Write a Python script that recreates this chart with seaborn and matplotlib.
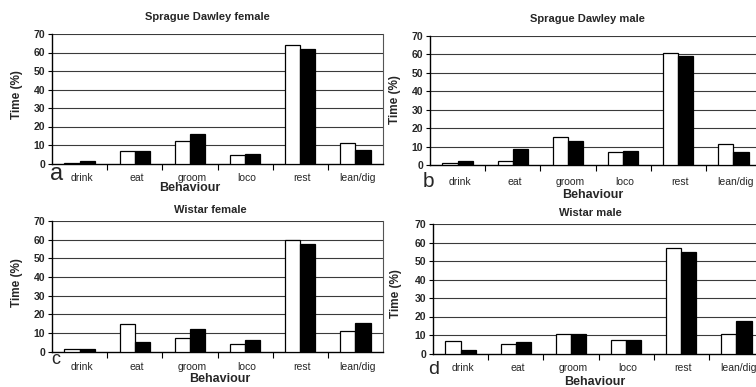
import matplotlib
matplotlib.use("Agg")
import matplotlib.pyplot as plt
import seaborn as sns
import pandas as pd
import numpy as np

behaviours = ["drink", "eat", "groom", "loco", "rest", "lean/dig"]
groups = ["white", "black"]

sd_female_white = [0.5, 6.5, 12.3, 4.4, 64.0, 11.0]
sd_female_black = [1.2, 6.5, 16.2, 5.4, 62.0, 7.2]
sd_male_white = [0.9, 2.2, 15.0, 6.9, 61.0, 11.4]
sd_male_black = [2.2, 8.7, 13.0, 7.4, 59.0, 7.2]
wi_female_white = [1.4, 14.5, 7.5, 4.1, 59.8, 11.1]
wi_female_black = [1.1, 5.2, 12.1, 6.4, 57.4, 15.4]
wi_male_white = [7.0, 5.4, 10.3, 7.2, 57.0, 10.8]
wi_male_black = [1.8, 6.0, 10.8, 7.4, 55.0, 17.5]

titles = ["Sprague Dawley female", "Sprague Dawley male", "Wistar female", "Wistar male"]
letters = ["a", "b", "c", "d"]
yticks = [0, 10, 20, 30, 40, 50, 60, 70]

sns.set_theme(style="white")
plt.rcParams["font.family"] = ["Liberation Sans", "DejaVu Sans"]

W, H = 756, 387
fig = plt.figure(figsize=(W / 100, H / 100), dpi=100)
fig.patch.set_facecolor("white")


def px_rect(left, right, top, bottom):
    return [left / W, 1 - bottom / H, (right - left) / W, (bottom - top) / H]


def ftext(x, y, s, va="center", **kw):
    fig.text(x / W, 1 - y / H, s, ha="center", va=va, **kw)


panels = [
    dict(white=sd_female_white, black=sd_female_black, rect=(52, 383, 34, 163.5),
         title=(207, 17), tick_y=178, xlab=(190, 188), ylab=(17, 95),
         letter=(56.5, 180), lsize=17),
    dict(white=sd_male_white, black=sd_male_black, rect=(430, 761, 36, 165),
         title=(587, 19), tick_y=182, xlab=(593, 195), ylab=(395, 100),
         letter=(428, 187), lsize=15),
    dict(white=wi_female_white, black=wi_female_black, rect=(52, 383, 221, 351.5),
         title=(210, 210), tick_y=367, xlab=(220, 379), ylab=(17, 283),
         letter=(55.5, 364.5), lsize=13),
    dict(white=wi_male_white, black=wi_male_black, rect=(433, 764, 224, 353.5),
         title=(590, 213), tick_y=368, xlab=(595, 382), ylab=(396, 294),
         letter=(433.5, 374), lsize=14),
]

for i, p in enumerate(panels):
    df = pd.DataFrame({
        "Behaviour": behaviours * 2,
        "Time": list(p["white"]) + list(p["black"]),
        "group": [groups[0]] * 6 + [groups[1]] * 6,
    })
    ax = fig.add_axes(px_rect(*p["rect"]))
    sns.barplot(data=df, x="Behaviour", y="Time", hue="group", order=behaviours,
                hue_order=groups, palette=["white", "black"], edgecolor="black",
                linewidth=0.9, width=0.55, legend=False, ax=ax, zorder=3)
    ax.set_xlim(-0.5, 5.5)
    ax.set_ylim(0, 70)
    ax.set_yticks(yticks)
    ax.set_yticklabels([str(t) for t in yticks], fontsize=7.5, fontweight="bold")
    for t in yticks[1:]:
        ax.axhline(t, color="#3a3a3a", lw=0.8, zorder=1)
    ax.set_xticks(range(6))
    ax.set_xticklabels([])
    ax.set_xticks(np.arange(0.5, 5.5, 1), minor=True)
    ax.tick_params(axis="x", which="major", length=0)
    ax.tick_params(axis="x", which="minor", length=4, width=0.8, color="black", direction="out", bottom=True)
    ax.tick_params(axis="y", length=3, width=0.8, color="black", direction="out", left=True, pad=2)
    ax.set_xlabel("")
    ax.set_ylabel("")
    for s in ["left", "bottom"]:
        ax.spines[s].set_color("black")
        ax.spines[s].set_linewidth(1.0)
        ax.spines[s].set_visible(True)
    ax.spines["top"].set_visible(False)
    ax.spines["right"].set_color("#555555")
    ax.spines["right"].set_linewidth(0.8)
    ax.set_facecolor("white")

    left, right, top, bottom = p["rect"]
    step = (right - left) / 6
    for k, b in enumerate(behaviours):
        ftext(left + step * (k + 0.5) + 2, p["tick_y"], b, fontsize=7.5)
    ftext(*p["title"], titles[i], fontsize=8, fontweight="bold")
    ftext(*p["xlab"], "Behaviour", fontsize=9, fontweight="bold")
    ftext(*p["ylab"], "Time (%)", fontsize=8.5, fontweight="bold", rotation=90)
    ftext(*p["letter"], letters[i], va="baseline", fontsize=p["lsize"])

fig.savefig("out.png", dpi=100, facecolor="white")
